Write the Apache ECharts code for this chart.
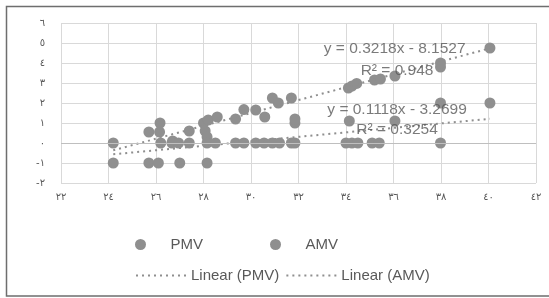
<!DOCTYPE html>
<html><head><meta charset="utf-8">
<script src="https://cdn.jsdelivr.net/npm/echarts@6/dist/echarts.min.js"></script>
<style>html,body{margin:0;padding:0;background:#fff;}#c{width:549px;height:298px;}</style>
</head><body><div id="c"></div>
<script>
// PMV points [x, y]
const pmv = [[24.2,0],[25.7,0.55],[26.15,0.55],[26.7,0.1],[27.4,0.6],[28.0,1.0],[28.07,0.6],[28.15,0.3],[28.2,1.15],[28.58,1.3],[29.35,1.2],[29.7,1.67],[30.2,1.65],[30.58,1.3],[30.9,2.25],[31.15,2.0],[31.7,2.25],[34.1,2.75],[34.25,2.85],[34.45,2.98],[35.2,3.15],[35.45,3.2],[36.06,3.35],[37.98,3.8],[37.98,4.0],[40.06,4.75]];
// AMV points [x, y]
const amv = [[24.2,-1],[25.7,-1],[26.1,-1],[27.0,-1],[28.15,-1],
 [26.2,0],[26.67,0],[26.95,0],[27.4,0],[28.15,0],[28.5,0],[29.35,0],[29.7,0],[30.2,0],[30.55,0],[30.9,0],[31.2,0],[31.7,0],[31.85,0],[34.0,0],[34.25,0],[34.5,0],[35.1,0],[35.4,0],[37.98,0],
 [26.17,1.0],[31.85,1.0],[31.85,1.2],[34.14,1.1],[36.06,1.1],[37.98,2.0],[40.06,2.0]];
// trendline equations as printed on the chart
const pmvSlope = 0.3218, pmvIntercept = -8.1527, pmvR2 = '0.948';
const amvSlope = 0.1118, amvIntercept = -3.2699, amvR2 = '0.3254';
// axis ticks
const xTicks = [22,24,26,28,30,32,34,36,38,40,42];
const yTicks = [-2,-1,0,1,2,3,4,5,6];
// equation label anchor positions (data units)
const eqPos = [[36.05,4.72],[36.15,3.62],[36.15,1.67],[36.15,0.67]];

const AR = '٠١٢٣٤٥٦٧٨٩';
function toAr(v){const s=String(Math.abs(v)).replace(/[0-9]/g,d=>AR[+d]);return v<0?'-'+s:s;}
function trend(pts,m,b){const xs=pts.map(p=>p[0]);const a=Math.min(...xs),z=Math.max(...xs);return [[a,m*a+b],[z,m*z+b]];}

const gray='#8f8f8f', txt='#595959';
const chart = echarts.init(document.getElementById('c'));
const eqTexts = ['y = '+pmvSlope+'x - '+Math.abs(pmvIntercept), 'R² = '+pmvR2, 'y = '+amvSlope+'x - '+Math.abs(amvIntercept), 'R² = '+amvR2];
chart.setOption({
  animation:false,
  backgroundColor:'#fff',
  grid:{left:61,right:13,top:23,bottom:115},
  xAxis:{type:'value',min:xTicks[0],max:xTicks[xTicks.length-1],interval:2,
    axisLine:{show:false},axisTick:{show:false},
    splitLine:{show:true,lineStyle:{color:'#d9d9d9',width:1}},
    axisLabel:{formatter:toAr,color:txt,fontFamily:'DejaVu Sans',fontSize:10,margin:9}},
  yAxis:{type:'value',min:yTicks[0],max:yTicks[yTicks.length-1],interval:1,
    axisLine:{show:false},axisTick:{show:false},
    splitLine:{show:true,lineStyle:{color:'#d9d9d9',width:1}},
    axisLabel:{formatter:toAr,color:txt,fontFamily:'DejaVu Sans',fontSize:10,margin:16}},
  legend:[
    {data:['PMV','AMV'],left:130,top:232,itemWidth:50,itemHeight:11,itemGap:67,
      textStyle:{color:txt,fontFamily:'Liberation Sans',fontSize:15}},
    {data:['Linear (PMV)','Linear (AMV)'],left:130,top:263,itemWidth:50,itemHeight:11,itemGap:6,
      itemStyle:{opacity:0},
      textStyle:{color:txt,fontFamily:'Liberation Sans',fontSize:15}}
  ],
  graphic:[{type:'rect',shape:{x:6.5,y:6.5,width:600,height:289.5},style:{fill:'none',stroke:'#6e6e6e',lineWidth:1.5},silent:true}],
  series:[
    {name:'PMV',type:'scatter',data:pmv,symbolSize:11,itemStyle:{color:gray,opacity:1},
      markLine:{silent:true,symbol:'none',label:{show:false},lineStyle:{color:'#bfbfbf',type:'solid',width:1},data:[{yAxis:0}]}},
    {name:'AMV',type:'scatter',data:amv,symbolSize:11,itemStyle:{color:gray,opacity:1}},
    {name:'Linear (PMV)',type:'line',data:trend(pmv,pmvSlope,pmvIntercept),symbol:'none',showSymbol:false,color:gray,
      lineStyle:{color:gray,width:2,type:[2,4]},z:3},
    {name:'Linear (AMV)',type:'line',data:trend(amv,amvSlope,amvIntercept),symbol:'none',showSymbol:false,color:gray,
      lineStyle:{color:gray,width:2,type:[2,4]},z:3},
    {name:'eq',type:'scatter',symbolSize:0,silent:true,z:5,
      data:eqPos.map((p,i)=>({value:p,label:{formatter:eqTexts[i]}})),
      label:{show:true,position:'inside',color:txt,fontFamily:'Liberation Sans',fontSize:15.5}}
  ]
});
</script></body></html>
